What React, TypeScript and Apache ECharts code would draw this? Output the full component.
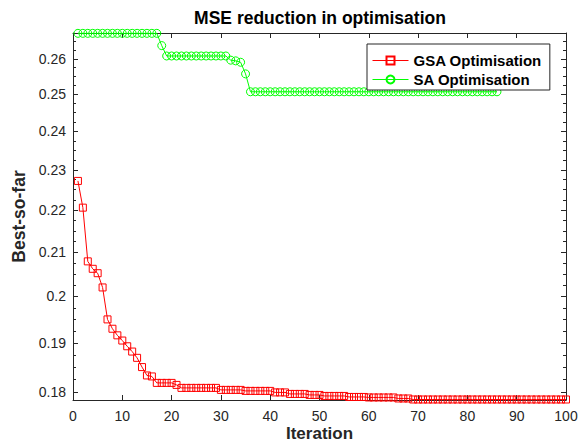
import React, { useEffect, useRef } from "react";
import * as echarts from "echarts";

// Iterations run 1..N for each series (x = index + 1)
const gsaValues = [
  0.2272, 0.2206, 0.2079, 0.2062, 0.2052, 0.2020, 0.1950, 0.1930, 0.1916, 0.1905,
  0.1893, 0.1882, 0.1869, 0.1850, 0.1833, 0.1831, 0.1818, 0.1818, 0.1818, 0.1818,
  0.1814, 0.1808, 0.1808, 0.1808, 0.1808, 0.1808, 0.1808, 0.1808, 0.1808, 0.1804,
  0.1804, 0.1804, 0.1804, 0.1804, 0.1802, 0.1802, 0.1802, 0.1802, 0.1802, 0.1802,
  0.1799, 0.1799, 0.1799, 0.1796, 0.1796, 0.1796, 0.1796, 0.1794, 0.1794, 0.1794,
  0.1792, 0.1792, 0.1792, 0.1792, 0.1792, 0.1790, 0.1790, 0.1790, 0.1790, 0.1789,
  0.1789, 0.1789, 0.1789, 0.1789, 0.1789, 0.1787, 0.1787, 0.1787, 0.1785, 0.1785,
  0.1785, 0.1785, 0.1785, 0.1785, 0.1785, 0.1785, 0.1785, 0.1785, 0.1785, 0.1785,
  0.1785, 0.1785, 0.1785, 0.1785, 0.1785, 0.1785, 0.1785, 0.1785, 0.1785, 0.1785,
  0.1785, 0.1785, 0.1785, 0.1785, 0.1785, 0.1785, 0.1785, 0.1785, 0.1785, 0.1785,
];

const saValues = [
  0.2674, 0.2674, 0.2674, 0.2674, 0.2674, 0.2674, 0.2674, 0.2674, 0.2674, 0.2674,
  0.2674, 0.2674, 0.2674, 0.2674, 0.2674, 0.2674, 0.2674, 0.2638, 0.2608, 0.2608,
  0.2608, 0.2608, 0.2608, 0.2608, 0.2608, 0.2608, 0.2608, 0.2608, 0.2608, 0.2608,
  0.2608, 0.2596, 0.2594, 0.2590, 0.2557, 0.2507, 0.2507, 0.2507, 0.2507, 0.2507,
  0.2507, 0.2507, 0.2507, 0.2507, 0.2507, 0.2507, 0.2507, 0.2507, 0.2507, 0.2507,
  0.2507, 0.2507, 0.2507, 0.2507, 0.2507, 0.2507, 0.2507, 0.2507, 0.2507, 0.2507,
  0.2507, 0.2507, 0.2507, 0.2507, 0.2507, 0.2507, 0.2507, 0.2507, 0.2507, 0.2507,
  0.2507, 0.2507, 0.2507, 0.2507, 0.2507, 0.2507, 0.2507, 0.2507, 0.2507, 0.2507,
  0.2507, 0.2507, 0.2507, 0.2507, 0.2507, 0.2507,
];

const seriesNames = ["GSA Optimisation", "SA Optimisation"];
const yMajorTicks = [0.18, 0.19, 0.2, 0.21, 0.22, 0.23, 0.24, 0.25, 0.26];
const Y_MIN = 0.1784;
const Y_MAX = 0.2675;
const X_MIN = 0;
const X_MAX = 100;
const X_STEP = 10;

const FONT = "'Liberation Sans', Arial, sans-serif";
const AXIS_COLOR = "#262626";

function minorTicks(): number[] {
  const out: number[] = [];
  for (let k = 1775; k <= 2675; k += 25) {
    if (k % 100 !== 0) out.push(k / 10000);
  }
  return out;
}

export default function App() {
  const ref = useRef<HTMLDivElement>(null);

  useEffect(() => {
    const chart = echarts.init(ref.current!, null, { renderer: "svg" });
    const minors = minorTicks();
    const logAxisBase = {
      type: "log" as const,
      logBase: 10,
      min: Y_MIN,
      max: Y_MAX,
      splitLine: { show: false },
      minorTick: { show: false },
      minorSplitLine: { show: false },
    };
    const option: any = {
      animation: false,
      backgroundColor: "#ffffff",
      title: {
        text: "MSE reduction in optimisation",
        left: 320,
        top: 9,
        padding: 0,
        textAlign: "center",
        textStyle: { fontFamily: FONT, fontSize: 17.5, fontWeight: "bold", color: "#000" },
      },
      legend: {
        data: seriesNames,
        orient: "vertical",
        left: 367,
        top: 44,
        itemWidth: 36,
        itemHeight: 10,
        itemGap: 4,
        padding: [9, 8, 3, 5],
        borderColor: AXIS_COLOR,
        borderWidth: 1,
        borderRadius: 0,
        backgroundColor: "#ffffff",
        selectedMode: false,
        lineStyle: { width: 1 },
        textStyle: { fontFamily: FONT, fontSize: 15, fontWeight: "bold", color: "#000", lineHeight: 15 },
      },
      grid: { left: 73, right: 18, top: 33, bottom: 44, containLabel: false, outerBoundsMode: "none" },
      xAxis: [
        {
          type: "value",
          min: X_MIN,
          max: X_MAX,
          interval: X_STEP,
          position: "bottom",
          axisLine: { show: true, onZero: false, lineStyle: { color: AXIS_COLOR, width: 1 } },
          axisTick: { show: true, inside: true, length: 5, lineStyle: { color: AXIS_COLOR } },
          axisLabel: { margin: 9, fontFamily: FONT, fontSize: 14, color: AXIS_COLOR },
          splitLine: { show: false },
          name: "Iteration",
          nameLocation: "middle",
          nameGap: 25,
          nameMoveOverlap: false,
          nameTextStyle: { fontFamily: FONT, fontSize: 17, lineHeight: 17, fontWeight: "bold", color: AXIS_COLOR },
        },
        {
          type: "value",
          min: X_MIN,
          max: X_MAX,
          interval: X_STEP,
          position: "top",
          axisLine: { show: true, onZero: false, lineStyle: { color: AXIS_COLOR, width: 1 } },
          axisTick: { show: true, inside: true, length: 5, lineStyle: { color: AXIS_COLOR } },
          axisLabel: { show: false },
          splitLine: { show: false },
        },
      ],
      yAxis: [
        {
          ...logAxisBase,
          position: "left",
          axisLine: { show: true, onZero: false, lineStyle: { color: AXIS_COLOR, width: 1 } },
          axisTick: { show: true, inside: true, length: 5, customValues: yMajorTicks, lineStyle: { color: AXIS_COLOR } },
          axisLabel: {
            customValues: yMajorTicks,
            margin: 7,
            fontFamily: FONT,
            fontSize: 14,
            color: AXIS_COLOR,
            formatter: (v: number) => String(parseFloat(Number(v).toFixed(3))),
          },
          name: "Best-so-far",
          nameLocation: "middle",
          nameGap: 40,
          nameTextStyle: { fontFamily: FONT, fontSize: 17.5, fontWeight: "bold", color: AXIS_COLOR },
        },
        {
          ...logAxisBase,
          position: "left",
          axisLine: { show: false, onZero: false },
          axisTick: { show: true, inside: true, length: 3, customValues: minors, lineStyle: { color: AXIS_COLOR } },
          axisLabel: { show: false },
        },
        {
          ...logAxisBase,
          position: "right",
          axisLine: { show: true, onZero: false, lineStyle: { color: AXIS_COLOR, width: 1 } },
          axisTick: { show: true, inside: true, length: 5, customValues: yMajorTicks, lineStyle: { color: AXIS_COLOR } },
          axisLabel: { show: false },
        },
        {
          ...logAxisBase,
          position: "right",
          axisLine: { show: false, onZero: false },
          axisTick: { show: true, inside: true, length: 3, customValues: minors, lineStyle: { color: AXIS_COLOR } },
          axisLabel: { show: false },
        },
      ],
      series: [
        {
          type: "line",
          name: seriesNames[0],
          xAxisIndex: 0,
          yAxisIndex: 0,
          data: gsaValues.map((v, i) => [i + 1, v]),
          symbol: "rect",
          symbolSize: 7,
          showSymbol: true,
          lineStyle: { color: "#ff0000", width: 1 },
          itemStyle: { color: "rgba(255,255,255,0)", borderColor: "#ff0000", borderWidth: 1 },
          emphasis: { disabled: true },
          z: 3,
        },
        {
          type: "line",
          name: seriesNames[1],
          xAxisIndex: 0,
          yAxisIndex: 0,
          data: saValues.map((v, i) => [i + 1, v]),
          symbol: "circle",
          symbolSize: 8,
          showSymbol: true,
          lineStyle: { color: "#00ff00", width: 1 },
          itemStyle: { color: "rgba(255,255,255,0)", borderColor: "#00ff00", borderWidth: 1 },
          emphasis: { disabled: true },
          z: 2,
        },
      ],
    };
    chart.setOption(option);
    return () => chart.dispose();
  }, []);

  return (
    <div
      ref={ref}
      style={{ position: "fixed", left: 0, top: 0, width: 584, height: 444, background: "#ffffff" }}
    />
  );
}
